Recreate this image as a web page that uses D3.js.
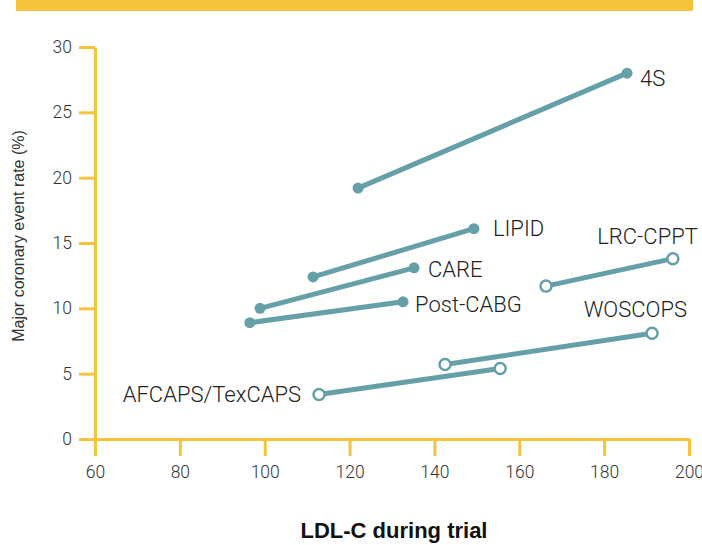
<!DOCTYPE html>
<html>
<head>
<meta charset="utf-8">
<script src="https://cdn.jsdelivr.net/npm/d3@7"></script>
<style>
  body { margin: 0; background: #fff; }
  svg text { font-family: Roboto, "DejaVu Sans", sans-serif; }
</style>
</head>
<body>
<div id="chart"></div>
<script>
// Configurable Variables
const width = 702;
const height = 545;
const yellow = "#f5c43c";
const teal = "#65a0a9";

// Trial data: LDL-C during trial (x) vs major coronary event rate (y)
const trials = ["4S", "LIPID", "CARE", "Post-CABG", "LRC-CPPT", "WOSCOPS", "AFCAPS/TexCAPS"];
const ldlStart = [122.0, 111.4, 98.9, 96.5, 166.3, 142.5, 112.8];
const ldlEnd = [185.4, 149.3, 135.2, 132.6, 196.2, 191.3, 155.5];
const rateStart = [19.2, 12.4, 10.0, 8.9, 11.7, 5.7, 3.4];
const rateEnd = [28.0, 16.1, 13.1, 10.5, 13.8, 8.1, 5.4];
const primaryPrevention = [false, false, false, false, true, true, true];

const xTicks = [60, 80, 100, 120, 140, 160, 180, 200];
const yTicks = [0, 5, 10, 15, 20, 25, 30];

// label placement (offsets from a segment end, in px)
const labelPos = {
    "4S": {at: "end", dx: 13, dy: 5, anchor: "start"},
    "LIPID": {at: "end", dx: 19, dy: 0, anchor: "start"},
    "CARE": {at: "end", dx: 14, dy: 1, anchor: "start"},
    "Post-CABG": {at: "end", dx: 12, dy: 2, anchor: "start"},
    "LRC-CPPT": {at: "end", dx: 25, dy: -22, anchor: "end"},
    "WOSCOPS": {at: "end", dx: 35, dy: -24, anchor: "end"},
    "AFCAPS/TexCAPS": {at: "start", dx: -18, dy: 0, anchor: "end"}
};

const svg = d3.select("#chart").append("svg")
    .attr("width", width)
    .attr("height", height);

// Top band
svg.append("rect")
    .attr("x", 16).attr("y", 0)
    .attr("width", 677).attr("height", 11)
    .attr("fill", yellow);

const x = d3.scaleLinear().domain([60, 200]).range([95, 689]);
const y = d3.scaleLinear().domain([0, 30]).range([439, 47]);

// Axes
const xAxis = svg.append("g")
    .attr("transform", `translate(0,${y(0)})`)
    .call(d3.axisBottom(x).tickValues(xTicks).tickSize(17).tickSizeOuter(0).tickPadding(10));

const yAxis = svg.append("g")
    .attr("transform", `translate(${x(60)},0)`)
    .call(d3.axisLeft(y).tickValues(yTicks).tickSize(16).tickSizeOuter(0).tickPadding(7));

[xAxis, yAxis].forEach(g => {
    g.select(".domain").attr("stroke", yellow).attr("stroke-width", 3);
    g.selectAll(".tick line").attr("stroke", yellow).attr("stroke-width", 3);
    g.selectAll(".tick text")
        .attr("fill", "#333")
        .style("font-size", "17.5px")
        .style("font-weight", 300);
});

// Axis titles
svg.append("text")
    .attr("x", 394)
    .attr("y", 530)
    .attr("dy", "0.35em")
    .attr("text-anchor", "middle")
    .style("font-family", "'Liberation Sans', Arial, sans-serif")
    .style("font-size", "22px")
    .style("font-weight", "bold")
    .attr("fill", "#111")
    .text("LDL-C during trial");

svg.append("text")
    .attr("transform", "translate(18,236) rotate(-90)")
    .attr("dy", "0.35em")
    .attr("text-anchor", "middle")
    .style("font-family", "'Liberation Sans', Arial, sans-serif")
    .style("font-size", "16px")
    .attr("fill", "#333")
    .text("Major coronary event rate (%)");

// Segments
const data = trials.map((name, i) => ({
    name,
    x0: ldlStart[i], y0: rateStart[i],
    x1: ldlEnd[i], y1: rateEnd[i],
    open: primaryPrevention[i]
}));

const g = svg.append("g");

g.selectAll("line.trial")
    .data(data)
    .enter().append("line")
    .attr("class", "trial")
    .attr("x1", d => x(d.x0)).attr("y1", d => y(d.y0))
    .attr("x2", d => x(d.x1)).attr("y2", d => y(d.y1))
    .attr("stroke", teal)
    .attr("stroke-width", 5);

const pts = data.flatMap(d => [
    {cx: d.x0, cy: d.y0, open: d.open},
    {cx: d.x1, cy: d.y1, open: d.open}
]);

g.selectAll("circle")
    .data(pts)
    .enter().append("circle")
    .attr("cx", d => x(d.cx))
    .attr("cy", d => y(d.cy))
    .attr("r", 5.5)
    .attr("fill", d => d.open ? "#fff" : teal)
    .attr("stroke", teal)
    .attr("stroke-width", d => d.open ? 2.5 : 0);

// Labels
g.selectAll("text.label")
    .data(data)
    .enter().append("text")
    .attr("class", "label")
    .attr("x", d => {
        const p = labelPos[d.name];
        return (p.at === "end" ? x(d.x1) : x(d.x0)) + p.dx;
    })
    .attr("y", d => {
        const p = labelPos[d.name];
        return (p.at === "end" ? y(d.y1) : y(d.y0)) + p.dy;
    })
    .attr("dy", "0.35em")
    .attr("text-anchor", d => labelPos[d.name].anchor)
    .style("font-size", "22px")
    .style("font-weight", 300)
    .attr("fill", "#222")
    .text(d => d.name);
</script>
</body>
</html>
